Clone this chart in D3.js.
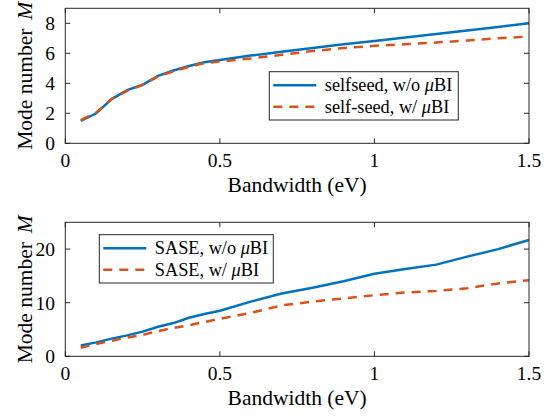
<!DOCTYPE html>
<html>
<head>
<meta charset="utf-8">
<script src="https://cdn.jsdelivr.net/npm/d3@7"></script>
</head>
<body style="margin:0; background:#fff">
<svg id="chart" width="558" height="417" style="display:block"></svg>
<script>
// Bandwidth (eV) sample points
const bw = [0.05, 0.1, 0.15, 0.2, 0.25, 0.3, 0.35, 0.4, 0.45, 0.5,
            0.6, 0.7, 0.8, 0.9, 1.0, 1.1, 1.2, 1.3, 1.4, 1.5];

// top panel: self-seeded
const selfseedNoBI = [1.5, 2.0, 2.95, 3.55, 3.9, 4.5, 4.85, 5.15, 5.4, 5.55,
                      5.85, 6.1, 6.35, 6.6, 6.82, 7.05, 7.28, 7.52, 7.76, 8.0];
const selfseedBI   = [1.55, 2.05, 2.95, 3.5, 3.9, 4.45, 4.8, 5.1, 5.35, 5.45,
                      5.65, 5.9, 6.15, 6.35, 6.5, 6.6, 6.72, 6.85, 7.0, 7.12];

// bottom panel: SASE
const saseNoBI = [2.0, 2.6, 3.3, 3.9, 4.6, 5.5, 6.2, 7.2, 7.9, 8.5,
                  10.2, 11.7, 12.8, 14.0, 15.4, 16.3, 17.1, 18.6, 20.0, 21.7];
const saseBI   = [1.6, 2.3, 2.9, 3.5, 4.0, 4.7, 5.3, 5.8, 6.4, 7.0,
                  8.1, 9.5, 10.2, 10.8, 11.4, 11.9, 12.2, 12.7, 13.6, 14.2];

const xTicks = [0, 0.5, 1, 1.5];
const yTicksTop = [0, 2, 4, 6, 8];
const yTicksBottom = [0, 10, 20];

const blue = "#0072BD";
const orange = "#D95319";
const font = '"Liberation Serif"';

const svg = d3.select("#chart");

function label(sel) {
    return sel.style("font-family", font).attr("fill", "#000");
}

function panel(opts) {
    const left = 65.3, width = 463.7;
    const top = opts.top, height = opts.height;

    const x = d3.scaleLinear().domain([0, 1.5]).range([left, left + width]);
    const y = d3.scaleLinear().domain(opts.yDomain).range([top + height, top]);

    const g = svg.append("g");

    // ticks inside, mirrored on all sides
    const tickLen = 5;
    const tg = g.append("g").attr("stroke", "#262626").attr("stroke-width", 1);
    xTicks.forEach(t => {
        tg.append("line").attr("x1", x(t)).attr("x2", x(t))
            .attr("y1", top + height).attr("y2", top + height - tickLen);
        tg.append("line").attr("x1", x(t)).attr("x2", x(t))
            .attr("y1", top).attr("y2", top + tickLen);
    });
    opts.yTicks.forEach(t => {
        tg.append("line").attr("x1", left).attr("x2", left + tickLen)
            .attr("y1", y(t)).attr("y2", y(t));
        tg.append("line").attr("x1", left + width).attr("x2", left + width - tickLen)
            .attr("y1", y(t)).attr("y2", y(t));
    });

    // tick labels
    g.selectAll(".xt").data(xTicks).join("text")
        .attr("x", d => x(d)).attr("y", top + height + 23.5)
        .attr("text-anchor", "middle").style("font-size", "19.5px")
        .call(label)
        .text(d => d);
    g.selectAll(".yt").data(opts.yTicks).join("text")
        .attr("x", 55).attr("y", d => y(d) + 7)
        .attr("text-anchor", "end").style("font-size", "19.5px")
        .call(label)
        .text(d => d);

    // lines
    const line = d3.line().x(d => x(d[0])).y(d => y(d[1]));
    g.append("path").datum(bw.map((b, i) => [b, opts.s1[i]]))
        .attr("d", line).attr("fill", "none")
        .attr("stroke", blue).attr("stroke-width", 2.5);
    g.append("path").datum(bw.map((b, i) => [b, opts.s2[i]]))
        .attr("d", line).attr("fill", "none")
        .attr("stroke", orange).attr("stroke-width", 2.5)
        .attr("stroke-dasharray", "9,7");

    // box
    g.append("rect").attr("x", left).attr("y", top)
        .attr("width", width).attr("height", height)
        .attr("fill", "none").attr("stroke", "#262626").attr("stroke-width", 1);

    // axis labels
    g.append("text").attr("x", left + width / 2).attr("y", top + height + 48.4)
        .attr("text-anchor", "middle").style("font-size", "21.5px")
        .call(label)
        .text("Bandwidth (eV)");
    const yl = g.append("text")
        .attr("transform", `translate(32,${top + height / 2}) rotate(-90)`)
        .attr("text-anchor", "middle").style("font-size", "21.5px")
        .call(label);
    yl.append("tspan").text("Mode number");
    yl.append("tspan").attr("dx", 9).style("font-style", "italic").text("M");

    // legend
    const L = opts.legend;
    const lg = g.append("g");
    lg.append("rect").attr("x", L.x).attr("y", L.y)
        .attr("width", L.w).attr("height", 48.3)
        .attr("fill", "#fff").attr("stroke", "#262626").attr("stroke-width", 1);
    L.labels.forEach((lab, i) => {
        const cy = L.y + 13.5 + i * 21.6;
        lg.append("line").attr("x1", L.x + 4).attr("x2", L.x + 47)
            .attr("y1", cy).attr("y2", cy)
            .attr("stroke", i === 0 ? blue : orange).attr("stroke-width", 2.5)
            .attr("stroke-dasharray", i === 0 ? null : "9,7");
        const t = lg.append("text").attr("x", L.x + 55.5).attr("y", cy + 6)
            .style("font-size", "18.3px")
            .call(label);
        t.append("tspan").text(lab);
        t.append("tspan").style("font-style", "italic").text("\u03bc");
        t.append("tspan").text("BI");
    });
}

panel({
    top: 8.3, height: 135, yDomain: [0, 9], yTicks: yTicksTop,
    s1: selfseedNoBI, s2: selfseedBI,
    legend: { x: 269.3, y: 71.7, w: 189, labels: ["selfseed, w/o ", "self-seed, w/ "] }
});

panel({
    top: 222.3, height: 134, yDomain: [0, 25], yTicks: yTicksBottom,
    s1: saseNoBI, s2: saseBI,
    legend: { x: 99.3, y: 234.7, w: 174, labels: ["SASE, w/o ", "SASE, w/ "] }
});
</script>
</body>
</html>
